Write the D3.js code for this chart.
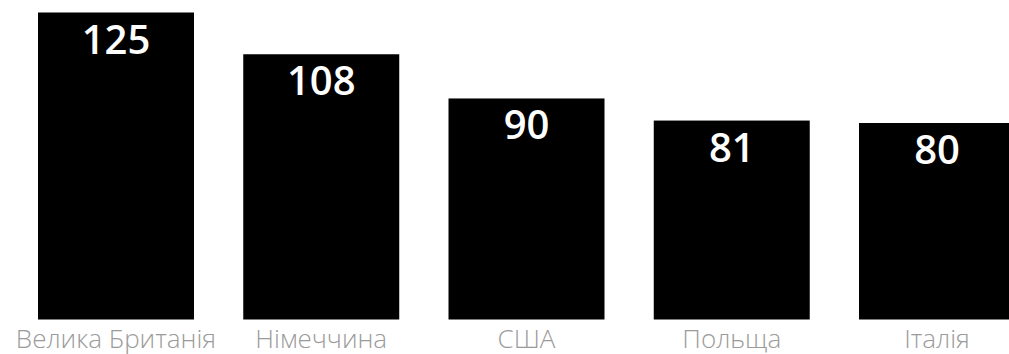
<!DOCTYPE html>
<html>
<head>
<meta charset="utf-8">
<script src="https://cdn.jsdelivr.net/npm/d3@7"></script>
<style>
    html, body { margin: 0; padding: 0; background: #fff; overflow: hidden; }
    svg { display: block; }
</style>
</head>
<body>
<div id="chart"></div>
<script>
var countries = ["Велика Британія", "Німеччина", "США", "Польща", "Італія"];
var values = [125, 108, 90, 81, 80];

var width = 1009;
var height = 354;

var svg = d3.select("#chart").append("svg")
    .attr("width", width)
    .attr("height", height);

//Band scale runs a bit past the right edge, last bar is cut off like in the original
var x = d3.scaleBand()
    .domain(countries)
    .range([38, 1015])
    .paddingInner(0.24);

var y = d3.scaleLinear()
    .domain([0, 125])
    .range([319.5, 12.5]);

var bars = svg.selectAll("g.bar")
    .data(countries)
    .enter()
    .append("g")
    .attr("class", "bar");

bars.append("rect")
    .attr("x", function (d) { return x(d); })
    .attr("y", function (d, i) { return y(values[i]); })
    .attr("width", x.bandwidth())
    .attr("height", function (d, i) { return y(0) - y(values[i]); })
    .style("fill", "#000");

//Value labels inside the bars
bars.append("text")
    .attr("x", function (d) { return x(d) + x.bandwidth() / 2; })
    .attr("y", function (d, i) { return y(values[i]) + 41; })
    .attr("text-anchor", "middle")
    .style("font-family", "'Open Sans', sans-serif")
    .style("font-weight", 600)
    .style("font-size", "40px")
    .style("fill", "#fff")
    .text(function (d, i) { return values[i]; });

//Category labels under the bars
var xAxis = d3.axisBottom(x).tickSize(0).tickPadding(0);

svg.append("g")
    .attr("transform", "translate(0," + y(0) + ")")
    .call(xAxis)
    .call(function (g) { g.select(".domain").remove(); })
    .selectAll("text")
    .attr("dy", null)
    .attr("y", 28)
    .style("font-family", "'Open Sans', sans-serif")
    .style("font-weight", 300)
    .style("font-size", "26px")
    .style("fill", "#9b9b9b");
</script>
</body>
</html>
